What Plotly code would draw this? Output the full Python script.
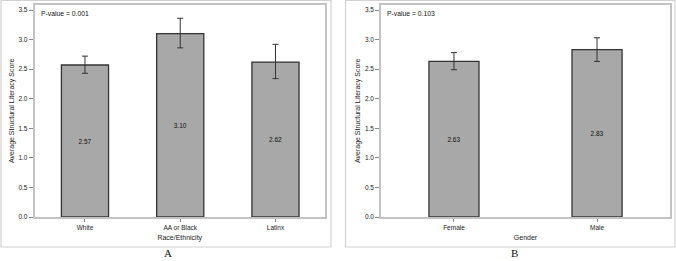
import plotly.graph_objects as go

W, H = 676, 261

# Panel A data
race_cats = ["White", "AA or Black", "Latinx"]
race_means = [2.57, 3.10, 2.62]
race_err_up = [0.15, 0.26, 0.30]
race_err_down = [0.14, 0.24, 0.28]
race_labels = ["2.57", "3.10", "2.62"]
race_p = "P-value = 0.001"

# Panel B data
gender_cats = ["Female", "Male"]
gender_means = [2.63, 2.83]
gender_err_up = [0.15, 0.20]
gender_err_down = [0.14, 0.20]
gender_labels = ["2.63", "2.83"]
gender_p = "P-value = 0.103"

y_ticks = [0.0, 0.5, 1.0, 1.5, 2.0, 2.5, 3.0, 3.5]
y_title = "Average Structural Literacy Score"

FONT = "Liberation Sans, Arial, sans-serif"
TXT = "#1a1a1a"
BAR_FILL = "#a8a8a8"
BAR_LINE = "#333333"
FRAME = "#c3c3c3"

def px_x(p):
    return p / W

def px_y(p):
    return 1 - p / H

fig = go.Figure()

def bar_trace(cats, means, up, down, labels, xa, ya, width):
    return go.Bar(
        x=cats, y=means, xaxis=xa, yaxis=ya, width=width,
        marker=dict(color=BAR_FILL, line=dict(color=BAR_LINE, width=1.3)),
        text=labels, textposition="inside", insidetextanchor="middle",
        textfont=dict(family=FONT, size=6.5, color="#111111"),
        textangle=0,
        error_y=dict(type="data", symmetric=False, array=up, arrayminus=down,
                     color="#333333", thickness=1, width=3),
        showlegend=False, hoverinfo="x+y",
    )

fig.add_trace(bar_trace(race_cats, race_means, race_err_up, race_err_down,
                        race_labels, "x", "y", 0.495))
fig.add_trace(bar_trace(gender_cats, gender_means, gender_err_up, gender_err_down,
                        gender_labels, "x2", "y2", 0.35))

y_top, y_bot = 4.5, 217
yrange = [0, 3.5 + (10 - y_top) / ((y_bot - 10) / 3.5)]

common_y = dict(
    range=yrange, tickvals=y_ticks, ticktext=[f"{v:.1f}" for v in y_ticks],
    ticks="outside", ticklen=4, tickwidth=1, tickcolor="#888888",
    showline=True, linecolor=FRAME, linewidth=1.5, mirror=True,
    showgrid=False, zeroline=False, automargin=False,
    tickfont=dict(family=FONT, size=6.5, color=TXT),
    title=dict(text=y_title, font=dict(family=FONT, size=7, color=TXT), standoff=3),
    domain=[px_y(y_bot), px_y(y_top)],
)
common_x = dict(
    ticks="outside", ticklen=3, tickwidth=1, tickcolor="#888888",
    showline=True, linecolor=FRAME, linewidth=1.5, mirror=True,
    showgrid=False, zeroline=False, automargin=False,
    tickfont=dict(family=FONT, size=6.5, color=TXT),
)

fig.update_layout(
    template="none",
    width=W, height=H,
    margin=dict(l=0, r=0, t=0, b=0, autoexpand=False),
    paper_bgcolor="white", plot_bgcolor="white",
    font=dict(family=FONT, color=TXT),
    bargap=0.5,
    hovermode=False,
    xaxis=dict(common_x, domain=[px_x(34.5), px_x(325)], anchor="y",
               range=[-0.53, 2.52],
               title=dict(text="Race/Ethnicity", font=dict(family=FONT, size=7, color=TXT), standoff=6)),
    yaxis=dict(common_y, anchor="x"),
    xaxis2=dict(common_x, domain=[px_x(381), px_x(670)], anchor="y2",
                range=[-0.51, 1.51],
                title=dict(text="Gender", font=dict(family=FONT, size=7, color=TXT), standoff=6)),
    yaxis2=dict(common_y, anchor="x2"),
)

# outer panel borders
for x0, x1 in [(1, 331), (345.5, 675)]:
    fig.add_shape(type="rect", xref="paper", yref="paper",
                  x0=px_x(x0), x1=px_x(x1), y0=px_y(247), y1=px_y(0.5),
                  line=dict(color="#d2d2d2", width=1.2), fillcolor="rgba(0,0,0,0)",
                  layer="below")

# p-values
fig.add_annotation(text=race_p, xref="x domain", yref="y domain", x=0.015, y=0.985,
                   xanchor="left", yanchor="top", showarrow=False,
                   font=dict(family=FONT, size=6.8, color="#111111"))
fig.add_annotation(text=gender_p, xref="x2 domain", yref="y2 domain", x=0.015, y=0.985,
                   xanchor="left", yanchor="top", showarrow=False,
                   font=dict(family=FONT, size=6.8, color="#111111"))

# panel letters
for txt, xc in [("A", 168), ("B", 514)]:
    fig.add_annotation(text=txt, xref="paper", yref="paper", x=px_x(xc), y=px_y(253),
                       xanchor="center", yanchor="middle", showarrow=False,
                       font=dict(family="Liberation Serif, Times New Roman, serif", size=11, color="#111111"))

fig.write_html(
    "out.html",
    config={"displayModeBar": False},
    post_script="document.body.style.margin='0';document.body.style.overflow='hidden';",
)
